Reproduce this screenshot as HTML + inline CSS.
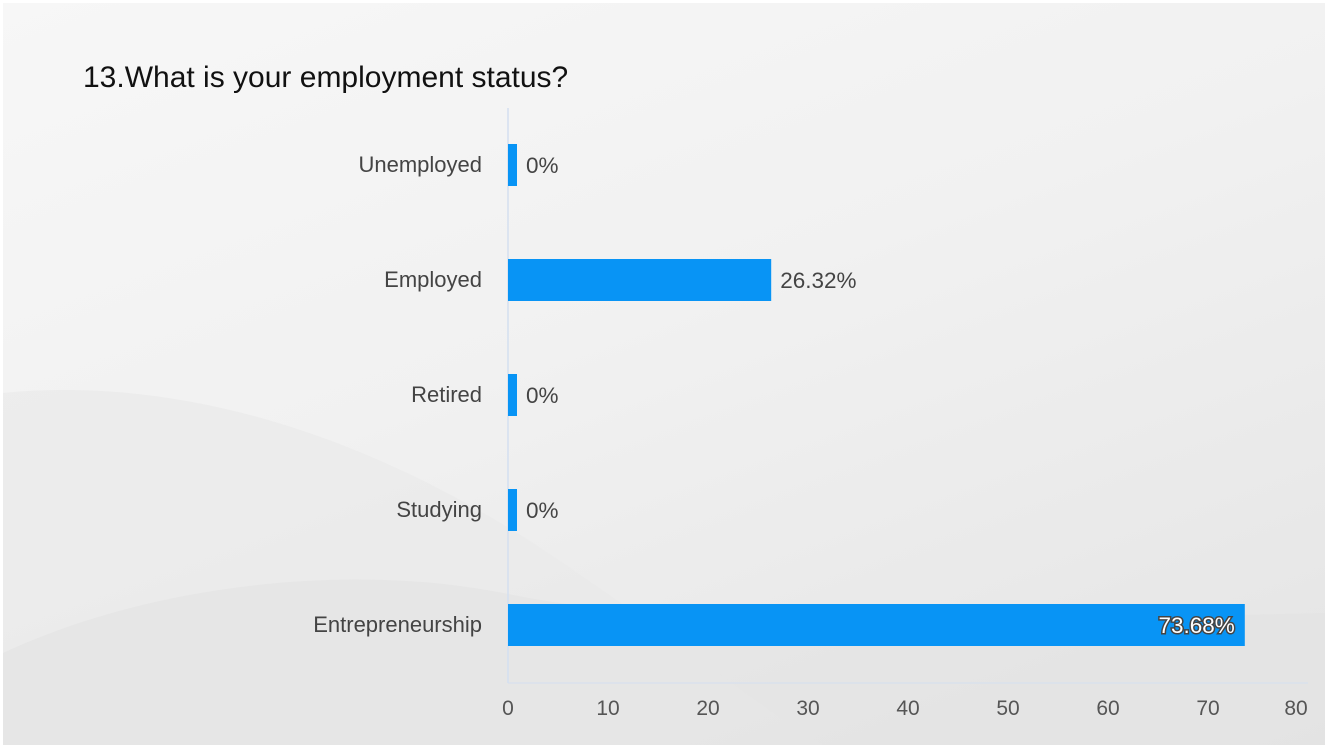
<!DOCTYPE html>
<html><head><meta charset="utf-8">
<style>
html,body{margin:0;padding:0;width:1328px;height:749px;overflow:hidden;background:#fff;}
#bg{position:absolute;left:3px;top:3px;width:1322px;height:742px;background:linear-gradient(160deg,#f7f7f7 0%,#f1f1f1 45%,#e4e4e4 100%);overflow:hidden;}
svg{position:absolute;left:0;top:0;}
text{font-family:"Liberation Sans","DejaVu Sans",sans-serif;}
</style></head><body>
<div id="bg">
<svg width="1322" height="742">
<path d="M0,390 C200,370 400,450 560,560 C650,620 750,700 820,742 L0,742 Z" fill="#e9e9e9" opacity="0.7"/>
<path d="M0,650 C150,580 350,560 500,590 C700,630 900,620 1322,610 L1322,742 L0,742 Z" fill="#e2e2e2" opacity="0.6"/>
</svg>
</div>
<svg id="chart" width="1328" height="749">
<text x="83" y="87" font-size="30" fill="#111">13.What is your employment status?</text>
</svg>
<script>
const categories=["Unemployed","Employed","Retired","Studying","Entrepreneurship"];
const values=[0,26.32,0,0,73.68];
const labels=["0%","26.32%","0%","0%","73.68%"];
const ticks=[0,10,20,30,40,50,60,70,80];
const NS="http://www.w3.org/2000/svg";
const svg=document.getElementById('chart');
const x0=508,pxPer=10,yTop=108,yBot=683,band=115,barH=42;
const xs=v=>x0+v*pxPer;
const yc=i=>165+i*band;
function mk(tag,attrs){const e=document.createElementNS(NS,tag);for(const k in attrs)e.setAttribute(k,attrs[k]);svg.appendChild(e);return e;}
let ax=mk('line',{x1:x0,y1:yTop,x2:x0,y2:yBot,stroke:'#d4dff0','stroke-width':1.5});


let bx=mk('line',{x1:x0,y1:yBot,x2:xs(80),y2:yBot,stroke:'#d4dff0','stroke-width':1});


ticks.forEach((t,i)=>{
 const last=i===ticks.length-1;
 const e=mk('text',{x:last?xs(t)-12:xs(t),y:715,'text-anchor':'middle','font-size':21,fill:'#555'});
 e.textContent=t;
 
 
});
categories.forEach((c,i)=>{
 const y=yc(i);
 const l=mk('text',{x:482,y:y+7,'text-anchor':'end','font-size':22,fill:'#444'});
 l.textContent=c;
 
 
 const w=Math.max(9,values[i]*pxPer);
 const r=mk('rect',{x:x0,y:y-barH/2,width:w,height:barH,fill:'#0894f5'});
 
 
 let t;
 if(values[i]>50){
  t=mk('text',{x:x0+w-10,y:y+8,'text-anchor':'end','font-size':22.5,fill:'#fff',stroke:'#444','stroke-width':3,'paint-order':'stroke'});
 } else {
  t=mk('text',{x:x0+w+9,y:y+8,'font-size':22.5,fill:'#444'});
 }
 t.textContent=labels[i];
 
 
});
</script>
</body></html>
